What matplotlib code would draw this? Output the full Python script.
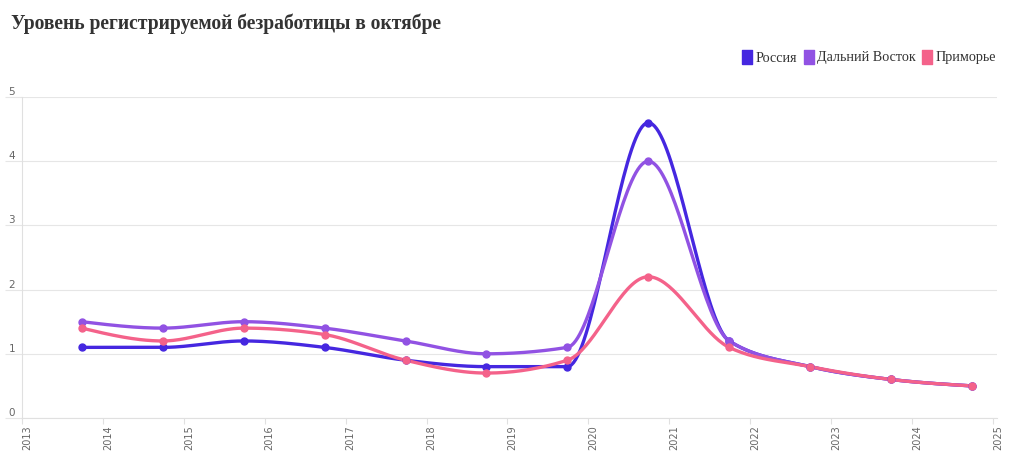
import numpy as np
import matplotlib
matplotlib.use("Agg")
import matplotlib.pyplot as plt
import matplotlib.transforms as mtransforms
from matplotlib.lines import Line2D

# --- data (registered unemployment, October, %) ---
years = [2013, 2014, 2015, 2016, 2017, 2018, 2019, 2020, 2021, 2022, 2023, 2024]
russia = [1.1, 1.1, 1.2, 1.1, 0.9, 0.8, 0.8, 4.6, 1.2, 0.8, 0.6, 0.5]
far_east = [1.5, 1.4, 1.5, 1.4, 1.2, 1.0, 1.1, 4.0, 1.2, 0.8, 0.6, 0.5]
primorye = [1.4, 1.2, 1.4, 1.3, 0.9, 0.7, 0.9, 2.2, 1.1, 0.8, 0.6, 0.5]
series_names = ["Россия", "Дальний Восток", "Приморье"]
colors = ["#4527e0", "#9152e3", "#f4628a"]
tick_years = list(range(2013, 2026))


def monotone(x, y, n=40):
    # monotone cubic (d3 curveMonotoneX style) for drawing the smooth line
    x = np.asarray(x, float)
    y = np.asarray(y, float)
    h = np.diff(x)
    s = np.diff(y) / h
    t = np.zeros(len(x))
    for i in range(1, len(x) - 1):
        p = (s[i - 1] * h[i] + s[i] * h[i - 1]) / (h[i - 1] + h[i])
        t[i] = (np.sign(s[i - 1]) + np.sign(s[i])) * min(abs(s[i - 1]), abs(s[i]), 0.5 * abs(p))
    t[0] = (3 * s[0] - t[1]) / 2
    t[-1] = (3 * s[-1] - t[-2]) / 2
    xs, ys = [], []
    for i in range(len(x) - 1):
        u = np.linspace(0, 1, n)
        h00 = 2 * u**3 - 3 * u**2 + 1
        h10 = u**3 - 2 * u**2 + u
        h01 = -2 * u**3 + 3 * u**2
        h11 = u**3 - u**2
        xs.append(x[i] + u * h[i])
        ys.append(h00 * y[i] + h10 * h[i] * t[i] + h01 * y[i + 1] + h11 * h[i] * t[i + 1])
    return np.concatenate(xs), np.concatenate(ys)


fig = plt.figure(figsize=(10.2, 4.58), dpi=100)
ax = fig.add_axes([22 / 1020, 40 / 458, 975 / 1020, 321 / 458])

xpos = np.array(years) + 0.74
for name, vals, c in zip(series_names, [russia, far_east, primorye], colors):
    sx, sy = monotone(xpos, vals)
    ax.plot(sx, sy, color=c, lw=2.4, solid_capstyle="round", zorder=3)
    ax.plot(xpos, vals, "o", color=c, ms=5, zorder=4)

ax.set_xlim(2013, 2025.05)
ax.set_ylim(0, 5)
ax.set_yticks(range(0, 6))
ax.set_xticks(tick_years)
ax.set_xticklabels([str(y) for y in tick_years], rotation=90, fontsize=7,
                   color="#666666", va="top", ha="center")
ax.tick_params(axis="x", length=4, color="#e0e0e0", pad=1)
ax.tick_params(axis="y", length=12, color="#e6e6e6", pad=-7, labelsize=7.5,
               labelcolor="#666666")
for lbl in ax.get_yticklabels():
    lbl.set_va("bottom")
shift = mtransforms.ScaledTranslation(5 / 100, 0, fig.dpi_scale_trans)
for lbl in ax.get_xticklabels():
    lbl.set_transform(lbl.get_transform() + shift)

ax.grid(axis="y", color="#e6e6e6", lw=0.8)
ax.set_axisbelow(True)
for side in ["top", "right"]:
    ax.spines[side].set_visible(False)
for side in ["left", "bottom"]:
    ax.spines[side].set_color("#e0e0e0")
    ax.spines[side].set_linewidth(0.8)

fig.text(11 / 1020, 1 - 24 / 458, "Уровень регистрируемой безработицы в октябре",
         fontsize=14.1, fontweight="bold", family="Liberation Serif",
         color="#333333", va="center", ha="left")

# tall swatch like the original legend
swatch = [(-0.34, -0.5), (0.34, -0.5), (0.34, 0.5), (-0.34, 0.5), (-0.34, -0.5)]
handles = [Line2D([], [], marker=swatch, ls="none", color=c, ms=10) for c in colors]
fig.legend(handles, series_names, loc="center right",
           bbox_to_anchor=(1009 / 1020, 1 - 58 / 458), ncol=3, frameon=False,
           prop={"family": "Liberation Serif", "size": 10.2},
           handlelength=0.7, handletextpad=0.25, columnspacing=0.45,
           labelcolor="#333333")

fig.savefig("out.png", dpi=100, facecolor="white")
